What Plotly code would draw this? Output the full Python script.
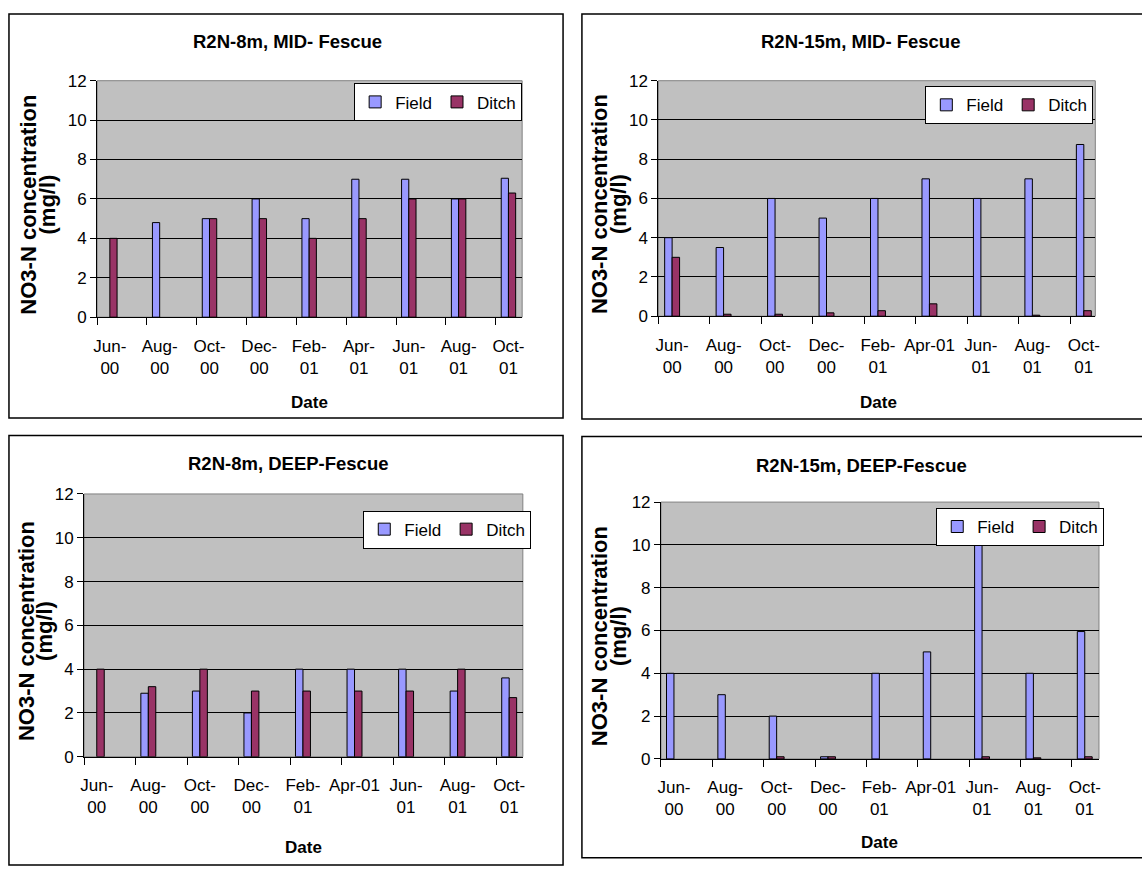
import plotly.graph_objects as go

# ---------------- data ----------------
categories = ["Jun-00", "Aug-00", "Oct-00", "Dec-00", "Feb-01", "Apr-01", "Jun-01", "Aug-01", "Oct-01"]
tick_labels_wrapped = ["Jun-<br>00", "Aug-<br>00", "Oct-<br>00", "Dec-<br>00", "Feb-<br>01",
                       "Apr-<br>01", "Jun-<br>01", "Aug-<br>01", "Oct-<br>01"]
tick_labels_apr = ["Jun-<br>00", "Aug-<br>00", "Oct-<br>00", "Dec-<br>00", "Feb-<br>01",
                   "Apr-01", "Jun-<br>01", "Aug-<br>01", "Oct-<br>01"]
y_ticks = [0, 2, 4, 6, 8, 10, 12]

titles = ["R2N-8m, MID- Fescue", "R2N-15m, MID- Fescue", "R2N-8m, DEEP-Fescue", "R2N-15m, DEEP-Fescue"]

mid8_field = [None, 4.8, 5, 6, 5, 7, 7, 6, 7.05]
mid8_ditch = [4, None, 5, 5, 4, 5, 6, 6, 6.3]
mid15_field = [4, 3.5, 6, 5, 6, 7, 6, 7, 8.75]
mid15_ditch = [3, 0.1, 0.1, 0.17, 0.28, 0.63, None, 0.05, 0.28]
deep8_field = [None, 2.9, 3, 2, 4, 4, 4, 3, 3.6]
deep8_ditch = [4, 3.2, 4, 3, 3, 3, 3, 4, 2.7]
deep15_field = [4, 3, 2, 0.1, 4, 5, 10, 4, 5.95]
deep15_ditch = [None, None, 0.1, 0.1, None, None, 0.1, 0.05, 0.1]

series_names = ["Field", "Ditch"]

# ---------------- style / layout ----------------
W, H = 1142, 877
FIELD_C = "#9999FF"
DITCH_C = "#993366"
FONT = "Liberation Sans, Arial, sans-serif"


def fx(v):
    return v / W


def fy(v):
    return 1 - v / H


panels = [
    dict(title=titles[0], field=mid8_field, ditch=mid8_ditch, labels=tick_labels_wrapped,
         plot=(93.8, 521.8, 73.3, 315), off=0.255, xr=8.275, box=(5, 5, 563, 418),
         tpos=(285, 33), dpos=(308, 402), ypos=(25, 44), leg=(521.8, 76)),
    dict(title=titles[1], field=mid15_field, ditch=mid15_ditch, labels=tick_labels_apr,
         plot=(659, 1099, 73.3, 314), off=0.267, xr=8.223, box=(582, 5, 1150, 419),
         tpos=(862.7, 33), dpos=(881, 402), ypos=(600, 619), leg=(1097, 79)),
    dict(title=titles[2], field=deep8_field, ditch=deep8_ditch, labels=tick_labels_apr,
         plot=(80.7, 522.5, 495.7, 764.3), off=0.245, xr=8.265, box=(5, 436, 563, 875),
         tpos=(286, 465), dpos=(302, 857), ypos=(22, 41), leg=(531, 512.7)),
    dict(title=titles[3], field=deep15_field, ditch=deep15_ditch, labels=tick_labels_apr,
         plot=(661.6, 1102.7, 504, 766.5), off=0.253, xr=8.277, box=(582, 437, 1150, 867.5),
         tpos=(863.6, 467), dpos=(881.7, 852), ypos=(600, 619), leg=(1108, 510)),
]

BAR_W = 0.145
xpos = list(range(len(categories)))

fig = go.Figure()
annotations = []
shapes = []
layout_extra = {}

for i, p in enumerate(panels, start=1):
    sfx = "" if i == 1 else str(i)
    leg_name = "legend" if i == 1 else f"legend{i}"
    fig.add_trace(go.Bar(
        x=xpos, y=p["field"], name=series_names[0], xaxis=f"x{sfx}", yaxis=f"y{sfx}",
        width=BAR_W, offset=-BAR_W, marker=dict(color=FIELD_C, line=dict(color="black", width=1)),
        legend=leg_name, showlegend=True))
    fig.add_trace(go.Bar(
        x=xpos, y=p["ditch"], name=series_names[1], xaxis=f"x{sfx}", yaxis=f"y{sfx}",
        width=BAR_W, offset=0, marker=dict(color=DITCH_C, line=dict(color="black", width=1)),
        legend=leg_name, showlegend=True))

    l, r, t, b = p["plot"]
    layout_extra[f"xaxis{sfx}"] = dict(
        domain=[fx(l), fx(r)], anchor=f"y{sfx}", range=[-p["off"], p["xr"]],
        tickmode="array", tickvals=xpos, ticktext=p["labels"], ticks="",
        showgrid=False, zeroline=False, showline=True, linecolor="black", linewidth=1,
        tickfont=dict(family=FONT, size=17, color="black"), ticklabelstandoff=13,
        minor=dict(tickmode="array", tickvals=[k - p["off"] for k in xpos], ticks="outside",
                   ticklen=7, tickcolor="black", tickwidth=1, showgrid=False),
        fixedrange=True)
    layout_extra[f"yaxis{sfx}"] = dict(
        domain=[fy(b), fy(t)], anchor=f"x{sfx}", range=[0, 12], tickmode="array", tickvals=y_ticks,
        showgrid=True, gridcolor="black", gridwidth=1, zeroline=False,
        showline=True, linecolor="black", linewidth=1, ticks="outside", ticklen=6,
        tickcolor="black", tickfont=dict(family=FONT, size=17, color="black"), fixedrange=True)

    lx, ly = p["leg"]
    layout_extra[leg_name] = dict(
        orientation="h", x=fx(lx), y=fy(ly), xanchor="right", yanchor="top",
        bgcolor="white", bordercolor="black", borderwidth=1,
        font=dict(family=FONT, size=17, color="black"), itemwidth=30,
        traceorder="normal", tracegroupgap=0)

    # plot area outer edge (gray)
    shapes.append(dict(type="rect", xref=f"x{sfx} domain", yref=f"y{sfx} domain", x0=0, x1=1, y0=0, y1=1,
                       line=dict(color="#808080", width=1), layer="below"))
    # panel border
    bx0, by0, bx1, by1 = p["box"]
    shapes.append(dict(type="rect", xref="paper", yref="paper", x0=fx(bx0), x1=fx(bx1),
                       y0=fy(by1), y1=fy(by0), line=dict(color="black", width=1.5)))

    tx, ty = p["tpos"]
    annotations.append(dict(text=f"<b>{p['title']}</b>", x=fx(tx), y=fy(ty), xref="paper", yref="paper",
                            showarrow=False, xanchor="center", yanchor="middle",
                            font=dict(family=FONT, size=18.5, color="black")))
    dx, dy = p["dpos"]
    annotations.append(dict(text="<b>Date</b>", x=fx(dx), y=fy(dy), xref="paper", yref="paper",
                            showarrow=False, xanchor="center", yanchor="middle",
                            font=dict(family=FONT, size=17, color="black")))
    y1x, y2x = p["ypos"]
    ymid = (t + b) / 2 + 6
    annotations.append(dict(text="<b>NO3-N concentration</b>", x=fx(y1x), y=fy(ymid), xref="paper",
                            yref="paper", showarrow=False, textangle=-90, xanchor="center",
                            yanchor="middle", font=dict(family=FONT, size=22, color="black")))
    annotations.append(dict(text="<b>(mg/l)</b>", x=fx(y2x), y=fy(ymid), xref="paper",
                            yref="paper", showarrow=False, textangle=-90, xanchor="center",
                            yanchor="middle", font=dict(family=FONT, size=22, color="black")))

fig.update_layout(
    width=W, height=H, margin=dict(l=0, r=0, t=0, b=0),
    paper_bgcolor="white", plot_bgcolor="#C0C0C0",
    barmode="overlay", showlegend=True,
    annotations=annotations, shapes=shapes,
    font=dict(family=FONT, color="black"),
    **layout_extra)

fig.write_html("out.html", config={"displayModeBar": False},
               post_script="document.body.style.margin='0';document.body.style.overflow='hidden';")
